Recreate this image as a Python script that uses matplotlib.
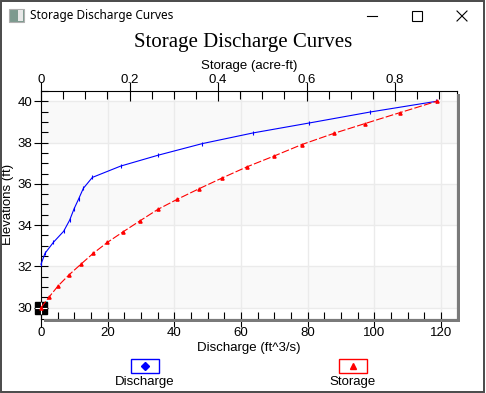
import matplotlib
matplotlib.use("Agg")
import matplotlib.pyplot as plt
from matplotlib.patches import Rectangle
from matplotlib.lines import Line2D

# discharge curve (ft^3/s vs elevation)
dis_elev = [32.1, 32.63, 33.16, 33.7, 34.24, 34.78, 35.27, 35.78, 36.31,
            36.86, 37.39, 37.95, 38.47, 38.95, 39.48, 40.0]
discharge = [0.0, 1.2, 3.7, 6.8, 8.6, 9.9, 11.3, 12.7, 15.4,
             23.9, 35.2, 48.4, 63.7, 80.5, 98.7, 118.6]

# storage curve (acre-ft vs elevation)
sto_elev = [30.0, 30.53, 31.06, 31.58, 32.1, 32.63, 33.16, 33.68, 34.21, 34.76,
            35.24, 35.76, 36.27, 36.82, 37.35, 37.9, 38.44, 38.92, 39.45, 40.0]
storage = [0.0, 0.019, 0.039, 0.063, 0.090, 0.118, 0.150, 0.186, 0.224, 0.264,
           0.307, 0.357, 0.408, 0.465, 0.527, 0.589, 0.661, 0.732, 0.811, 0.894]

# little cyan piece at the origin
cyan_x = [0.3, 1.8]
cyan_y = [30.03, 30.28]

W, H = 486, 393
sans = ["Liberation Sans", "DejaVu Sans"]
plt.rcParams['font.family'] = sans

fig = plt.figure(figsize=(W / 100, H / 100), dpi=100)
fig.patch.set_facecolor("white")


def fx(px):
    return px / W


def fy(py):
    return 1 - py / H


def pt(px):
    return px * 0.72


LW = 0.8

# window chrome
fig.patches.append(Rectangle((fx(0.5), fy(391.5)), fx(484) - fx(0.5), fy(0.5) - fy(391.5),
                             transform=fig.transFigure, fill=False, ec="#4a4a4a", lw=1.4))
fig.patches.append(Rectangle((fx(9), fy(22)), fx(15), 13 / H, transform=fig.transFigure,
                             fc="#7d9a8f", ec="#b0b0b0", lw=0.8))
fig.patches.append(Rectangle((fx(18), fy(21)), fx(5), 11 / H, transform=fig.transFigure,
                             fc="#e8e8e8", ec="none"))
fig.text(fx(30), fy(16), "Storage Discharge Curves", fontsize=8.5, va="center", ha="left",
         family=["Noto Sans", "DejaVu Sans"])
fig.lines.append(Line2D([fx(367), fx(377)], [fy(16), fy(16)], transform=fig.transFigure,
                        color="black", lw=0.8))
fig.patches.append(Rectangle((fx(412), fy(20.5)), fx(9.5), 9.5 / H, transform=fig.transFigure,
                             fill=False, ec="black", lw=0.8))
fig.lines.append(Line2D([fx(457), fx(467)], [fy(11), fy(21)], transform=fig.transFigure,
                        color="black", lw=0.8))
fig.lines.append(Line2D([fx(457), fx(467)], [fy(21), fy(11)], transform=fig.transFigure,
                        color="black", lw=0.8))

# plot area
left, right, top, bottom = 41, 456.7, 91, 318.5
ax = fig.add_axes([fx(left), fy(bottom), fx(right) - fx(left), fy(top) - fy(bottom)])
ax.set_facecolor("white")

# drop shadow
fig.patches.append(Rectangle((fx(right), fy(bottom + 3)), 3.5 / W, fy(top + 3) - fy(bottom + 3),
                             transform=fig.transFigure, fc="#7a7a7a", ec="none", zorder=0))
fig.patches.append(Rectangle((fx(left + 3), fy(bottom + 3.5)), fx(right + 3.5) - fx(left + 3), 3.5 / H,
                             transform=fig.transFigure, fc="#7a7a7a", ec="none", zorder=0))

for lo, hi in [(30, 32), (34, 36), (38, 40)]:
    ax.axhspan(lo, hi, color="#f9f9f9", zorder=0, lw=0)

ax.set_xlim(0, 124.7)
ax.set_ylim(29.47, 40.48)
ax.set_xticks(range(0, 121, 20))
ax.set_xticks(range(0, 125, 5), minor=True)
ax.set_yticks(range(30, 41, 2))
ax.set_yticks([30 + 0.5 * i for i in range(22)], minor=True)
ax.grid(True, which="major", color="#ebebeb", lw=1)
ax.set_axisbelow(True)

ax.tick_params(axis="both", which="major", direction="inout", length=pt(15), width=LW,
               labelsize=9.5, pad=1)
ax.tick_params(axis="both", which="minor", direction="in", length=pt(7), width=LW)
ax.tick_params(axis="y", which="major", length=pt(14))
for s in ax.spines.values():
    s.set_color("black")
    s.set_linewidth(LW)

ax.plot(discharge, dis_elev, color="blue", lw=LW, marker="|", ms=2.2, mew=LW, clip_on=False, zorder=3)
ax.plot(cyan_x, cyan_y, color="cyan", lw=LW, zorder=4)
ax.plot([0], [30], marker="s", color="black", ms=8, clip_on=False, zorder=5)
ax.plot([0], [30], marker="+", color="white", ms=8, mew=0.8, clip_on=False, zorder=6)

ax.set_xlabel("Discharge (ft^3/s)", fontsize=9.5, labelpad=2)
ax.set_ylabel("Elevations (ft)", fontsize=9.5, labelpad=3)

ax2 = ax.twiny()
ax2.set_xlim(0, 0.9394)
ax2.set_xticks([0, 0.2, 0.4, 0.6, 0.8])
ax2.set_xticklabels(["0", "0.2", "0.4", "0.6", "0.8"])
ax2.set_xticks([0.05 * i for i in range(19)], minor=True)
ax2.tick_params(axis="x", which="major", direction="inout", length=pt(19), width=LW,
                labelsize=9.5, pad=-3)
ax2.tick_params(axis="x", which="minor", direction="in", length=pt(8), width=LW)
for s in ax2.spines.values():
    s.set_visible(False)
ax2.plot(storage, sto_elev, color="red", lw=LW, ls=(0, (7, 2)), marker="^", ms=2.3,
         clip_on=False, zorder=3)
ax2.set_xlabel("Storage (acre-ft)", fontsize=9.5, labelpad=3)

fig.suptitle("Storage Discharge Curves", y=fy(43), va="center", fontsize=15,
             family=["Liberation Serif", "DejaVu Serif"])

# legend boxes
for cx, col, mk, name in [(145, "blue", "D", "Discharge"), (353, "red", "^", "Storage")]:
    fig.patches.append(Rectangle((fx(cx - 14), fy(373)), 28 / W, 14 / H, transform=fig.transFigure,
                                 fill=False, ec=col, lw=1))
    fig.lines.append(Line2D([fx(cx)], [fy(366)], transform=fig.transFigure, marker=mk,
                            color=col, ms=4.5, ls="none"))
    fig.text(fx(cx), fy(382), name, ha="center", va="center", fontsize=9.5)

fig.savefig("out.png", dpi=100)
